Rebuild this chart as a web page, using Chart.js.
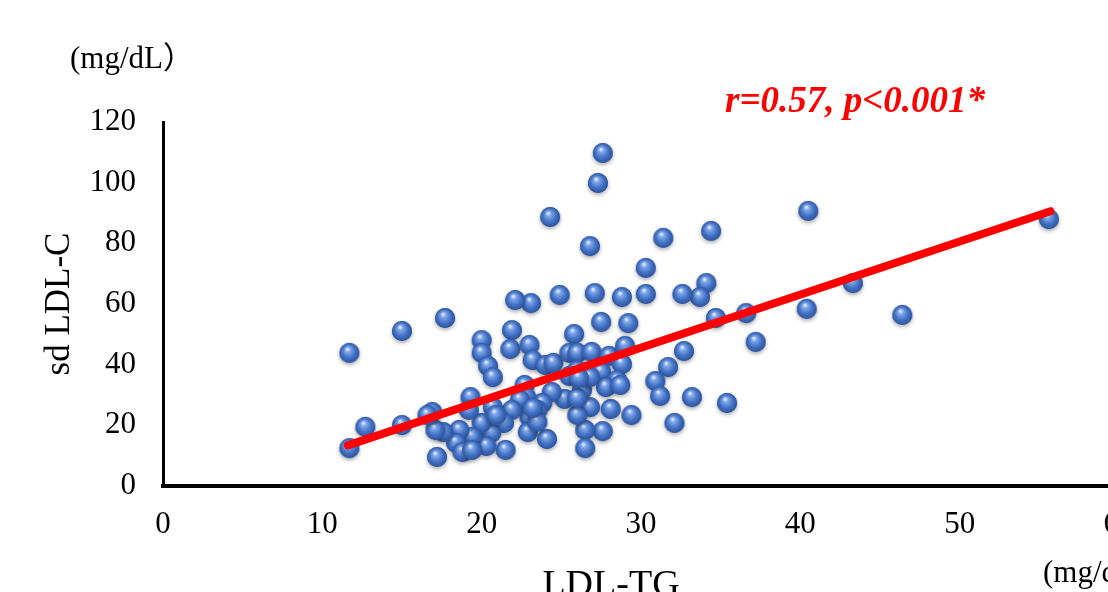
<!DOCTYPE html>
<html>
<head>
  <title>sd LDL-C vs LDL-TG</title>
  <script src="https://cdn.jsdelivr.net/npm/chart.js"></script>
  <style>
    html, body { margin: 0; padding: 0; overflow: hidden; background: #fff; }
  </style>
</head>
<body>
  <canvas id="scatterChart" width="1200" height="640"></canvas>

  <script>
    // LDL-TG (mg/dL) and sd LDL-C (mg/dL)
    const ldlTg = [
      27.6, 27.3, 24.3, 26.8, 31.4, 34.4, 40.5, 55.6, 30.3, 34.1, 33.7, 32.6, 30.3, 28.8, 27.1, 24.9,
      23.1, 22.1, 17.7, 27.5, 29.2, 21.9, 25.8, 34.7, 36.6, 40.4, 43.3, 46.4, 37.2, 15.0, 11.7,
      20.0, 20.0, 21.8, 23.0, 20.4, 20.7, 23.2, 24.0, 24.5, 25.5, 26.0, 26.9, 28.0, 29.0, 28.8, 32.7,
      31.7, 30.9, 31.2, 33.2, 35.4, 32.1, 29.4, 28.1, 27.6, 26.5, 26.5, 26.8, 26.0, 25.2, 25.5, 26.0,
      26.3, 26.0, 27.5, 28.5, 27.8, 28.7, 26.8, 26.1, 24.4, 23.8, 23.5, 23.0, 22.9, 24.1, 22.7, 22.8,
      22.4, 21.9, 21.4, 21.5, 20.7, 20.6, 20.3, 20.0, 19.4, 19.3, 19.2, 18.6, 18.4, 18.8, 19.4, 17.6,
      17.1, 16.9, 16.6, 17.2, 15.0, 12.7, 11.7, 20.9, 23.5, 23.2
    ];
    const sdLdlC = [
      109.8, 99.9, 88.7, 79.1, 81.8, 84.1, 90.7, 88.0, 71.9, 66.9, 62.3, 63.3, 63.3, 62.3, 63.6, 63.0,
      60.3, 61.3, 55.4, 54.1, 53.7, 51.4, 50.1, 55.4, 57.0, 58.4, 66.9, 56.4, 47.5, 51.1, 43.9,
      48.1, 43.9, 45.2, 46.5, 39.6, 35.9, 41.5, 39.9, 40.6, 43.9, 43.9, 44.2, 42.9, 46.2, 40.2, 44.5,
      39.2, 34.6, 29.7, 29.3, 27.4, 20.8, 23.4, 25.4, 18.1, 18.5, 12.5, 26.0, 23.4, 28.7, 36.3, 38.2,
      31.7, 29.0, 37.6, 34.9, 32.6, 33.3, 35.9, 35.6, 31.0, 27.4, 25.1, 22.7, 17.8, 15.5, 33.3, 29.3,
      28.4, 25.1, 20.8, 11.9, 26.0, 17.5, 13.2, 20.8, 16.2, 29.3, 25.1, 18.5, 14.2, 11.2, 11.9, 17.8,
      18.5, 24.4, 23.4, 9.6, 20.1, 19.5, 12.5, 23.4, 21.1, 25.7
    ];

    // regression line end points
    const fitX = [11.6, 55.7];
    const fitY = [13.4, 90.6];

    const xTicks = [0, 10, 20, 30, 40, 50, 60];
    const yTicks = [0, 20, 40, 60, 80, 100, 120];

    const serif = '"Liberation Serif", "Times New Roman", "Noto Sans CJK JP", serif';

    // shiny blue ball used as point marker
    function makeBall() {
      const c = document.createElement('canvas');
      c.width = 30;
      c.height = 30;
      const g = c.getContext('2d');
      g.save();
      g.shadowColor = 'rgba(0,0,0,0.35)';
      g.shadowBlur = 4;
      g.shadowOffsetY = 2;
      g.beginPath();
      g.arc(15, 15, 10, 0, Math.PI * 2);
      g.fillStyle = '#3d68b8';
      g.fill();
      g.restore();
      const grad = g.createRadialGradient(13, 11, 0.5, 15, 15, 10.5);
      grad.addColorStop(0, '#e4eeff');
      grad.addColorStop(0.22, '#7ea6ea');
      grad.addColorStop(0.6, '#4574c6');
      grad.addColorStop(1, '#294f98');
      g.beginPath();
      g.arc(15, 15, 10, 0, Math.PI * 2);
      g.fillStyle = grad;
      g.fill();
      return c;
    }

    const textPlugin = {
      id: 'extraText',
      afterDraw(chart) {
        const ctx = chart.ctx;
        ctx.save();
        ctx.textBaseline = 'middle';
        ctx.textAlign = 'left';
        ctx.fillStyle = '#000';
        ctx.font = '31px ' + serif;
        ctx.fillText('(mg/dL）', 70, 60);
        ctx.fillText('(mg/dL）', 1043, 574);
        ctx.textAlign = 'center';
        ctx.font = '38px ' + serif;
        ctx.fillText('LDL-TG', 611, 586);
        ctx.textAlign = 'left';
        ctx.fillStyle = '#ff0000';
        ctx.font = 'italic bold 37px ' + serif;
        ctx.fillText('r=0.57, p<0.001*', 725, 102);
        ctx.restore();
      }
    };

    function renderChart() {
      const ctx = document.getElementById('scatterChart').getContext('2d');
      const ball = makeBall();
      const points = ldlTg.map((x, i) => ({ x: x, y: sdLdlC[i] }));
      const fit = fitX.map((x, i) => ({ x: x, y: fitY[i] }));

      new Chart(ctx, {
        type: 'scatter',
        data: {
          datasets: [{
            type: 'line',
            label: 'fit',
            data: fit,
            borderColor: '#ff0000',
            borderWidth: 8,
            borderCapStyle: 'round',
            pointRadius: 0,
            fill: false
          }, {
            label: 'sd LDL-C',
            data: points,
            pointStyle: ball,
            pointRadius: 10
          }]
        },
        options: {
          responsive: false,
          animation: false,
          layout: { padding: { top: 122, right: 81, left: 0, bottom: 0 } },
          plugins: {
            legend: { display: false },
            tooltip: { enabled: false }
          },
          scales: {
            x: {
              type: 'linear',
              min: 0,
              max: 60,
              afterBuildTicks: s => { s.ticks = xTicks.map(v => ({ value: v })); },
              afterFit: s => { s.height = 154; },
              grid: { display: false, drawTicks: false },
              border: { display: true, color: '#000', width: 4 },
              ticks: { color: '#000', padding: 20, font: { family: serif, size: 31 } }
            },
            y: {
              min: 0,
              max: 120,
              afterBuildTicks: s => { s.ticks = yTicks.map(v => ({ value: v })); },
              afterFit: s => { s.width = 163; },
              grid: { display: false, drawTicks: false },
              border: { display: true, color: '#000', width: 3 },
              ticks: { color: '#000', padding: 27, font: { family: serif, size: 31 } },
              title: {
                display: true,
                text: 'sd LDL-C',
                color: '#000',
                font: { family: serif, size: 35, lineHeight: 1.2 },
                padding: { top: 39, bottom: 0 }
              }
            }
          }
        },
        plugins: [textPlugin]
      });
    }

    renderChart();
  </script>
</body>
</html>
